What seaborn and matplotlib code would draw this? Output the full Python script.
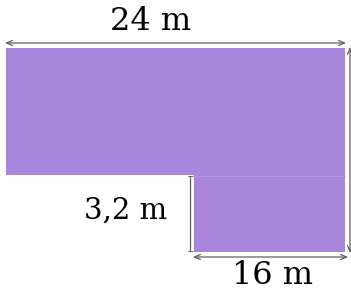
import matplotlib.pyplot as plt
import seaborn as sns
from matplotlib.patches import Rectangle

# dimension labels shown on the figure
labels = ["24 m", "3,2 m", "16 m"]

sns.set_theme(style="white")
plt.rcParams["font.family"] = ["DejaVu Serif"]

fill = "#a886dc"
line = "#606060"

fig = plt.figure(figsize=(3.51, 2.93), dpi=100)
ax = fig.add_axes([0, 0, 1, 1])
ax.set_xlim(0, 351)
ax.set_ylim(293, 0)
ax.axis("off")

# the L shape (drawing units = pixels)
ax.add_patch(Rectangle((6, 48), 339, 127, facecolor=fill, edgecolor="none"))
ax.add_patch(Rectangle((194, 175), 151, 77, facecolor=fill, edgecolor="none"))
ax.plot([194, 345], [175.5, 175.5], color="#b89ae2", lw=0.6)

arrow = dict(arrowstyle="<->,head_length=0.35,head_width=0.15", color=line, lw=0.9,
             shrinkA=0, shrinkB=0)
# 24 m along the top
ax.annotate("", xy=(5, 43), xytext=(346, 43), arrowprops=arrow)
# full height on the right
ax.annotate("", xy=(350, 47), xytext=(350, 253), arrowprops=arrow)
# 3,2 m step
ax.plot([190, 190], [176, 251], color=line, lw=0.9)
ax.plot([187.5, 192.5], [176, 176], color=line, lw=0.6)
ax.plot([187.5, 192.5], [251, 251], color=line, lw=0.6)
# 16 m along the bottom
ax.annotate("", xy=(193, 257), xytext=(348, 257), arrowprops=arrow)

font = dict(family="DejaVu Serif", color="black", ha="center", va="center")
ax.text(151, 21, labels[0], fontsize=23, **font)
ax.text(126, 211, labels[1], fontsize=21, **font)
ax.text(273, 276, labels[2], fontsize=23, **font)

fig.savefig("out.png", dpi=100)
